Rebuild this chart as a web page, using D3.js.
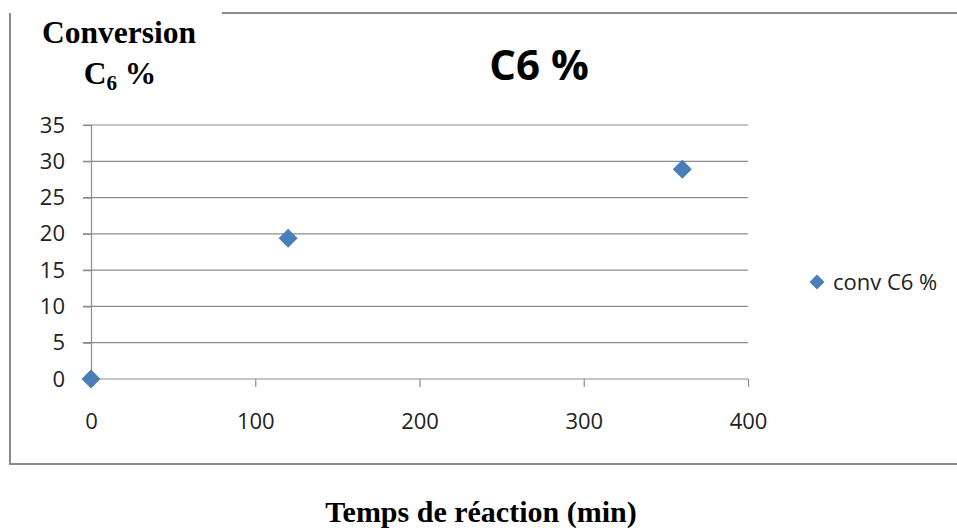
<!DOCTYPE html>
<html><head><meta charset="utf-8">
<script src="https://cdn.jsdelivr.net/npm/d3@7"></script>
<style>html,body{margin:0;padding:0;background:#fff;}svg{display:block;}</style>
</head><body>
<svg id="c" width="957" height="528"></svg>
<script>
const timeMin = [0, 120, 360];
const convC6 = [0, 19.4, 28.9];
const xTicks = [0, 100, 200, 300, 400];
const yTicks = [0, 5, 10, 15, 20, 25, 30, 35];
const seriesName = "conv C6 %";
const chartTitle = "C6 %";
const xTitle = "Temps de réaction (min)";

const svg = d3.select("#c");
const blue = "#4a7ebb", grid = "#8c8c8c";
const x = d3.scaleLinear().domain([0, 400]).range([91, 748]);
const y = d3.scaleLinear().domain([0, 35]).range([379, 125]);

// frame
const fr = svg.append("g").attr("stroke", "#8a8a8a").attr("stroke-width", 2).attr("fill", "none");
fr.append("path").attr("d", "M222,13 H957 M10,13 V464 H957");

// gridlines
svg.append("g").selectAll("line").data(yTicks.filter(d => d > 0)).join("line")
  .attr("x1", 83).attr("x2", 748).attr("y1", d => y(d)).attr("y2", d => y(d))
  .attr("stroke", grid).attr("stroke-width", 1.2);

// y axis
const ya = svg.append("g").attr("transform", "translate(91,0)")
  .call(d3.axisLeft(y).tickValues(yTicks).tickSize(8).tickPadding(18));
// x axis
const xa = svg.append("g").attr("transform", "translate(0,379)")
  .call(d3.axisBottom(x).tickValues(xTicks).tickSize(8).tickPadding(26));
[ya, xa].forEach(a => {
  a.select(".domain").attr("stroke", grid).attr("stroke-width", 1.2);
  a.selectAll(".tick line").attr("stroke", grid).attr("stroke-width", 1.2);
  a.selectAll("text").attr("font-family", "'Open Sans', sans-serif").attr("font-size", 22).attr("fill", "#222");
});
ya.selectAll(".tick line").attr("x2", -8);
xa.select(".domain").attr("d", "M91,0H748");

// points
const diamond = s => `M0,${-s}L${s},0L0,${s}L${-s},0Z`;
svg.append("g").selectAll("path").data(timeMin.map((t, i) => [t, convC6[i]])).join("path")
  .attr("transform", d => `translate(${x(d[0])},${y(d[1])})`)
  .attr("d", diamond(9.5)).attr("fill", blue);

// title
svg.append("text").attr("x", 539).attr("y", 80).attr("text-anchor", "middle")
  .attr("font-family", "'Open Sans', sans-serif").attr("font-weight", "bold").attr("font-size", 42)
  .attr("fill", "#000").text(chartTitle);

// y title
const yt = svg.append("g").attr("font-family", "'Liberation Serif', 'Times New Roman', serif")
  .attr("font-weight", "bold").attr("font-size", 31.5).attr("fill", "#000");
yt.append("text").attr("x", 119).attr("y", 43).attr("text-anchor", "middle").text("Conversion");
const l2 = yt.append("text").attr("x", 120).attr("y", 84).attr("text-anchor", "middle");
l2.append("tspan").text("C");
l2.append("tspan").attr("font-size", 21).attr("dy", 6).text("6");
l2.append("tspan").attr("dy", -6).text(" %");

// x title
svg.append("text").attr("x", 481).attr("y", 522).attr("text-anchor", "middle")
  .attr("font-family", "'Liberation Serif', 'Times New Roman', serif")
  .attr("font-weight", "bold").attr("font-size", 30).attr("fill", "#000").text(xTitle);

// legend
const lg = svg.append("g").attr("transform", "translate(817,282)");
lg.append("path").attr("d", diamond(7.5)).attr("fill", blue);
lg.append("text").attr("x", 16).attr("y", 8).attr("font-family", "'Open Sans', sans-serif")
  .attr("font-size", 22).attr("fill", "#222").text(seriesName);
</script>
</body></html>
